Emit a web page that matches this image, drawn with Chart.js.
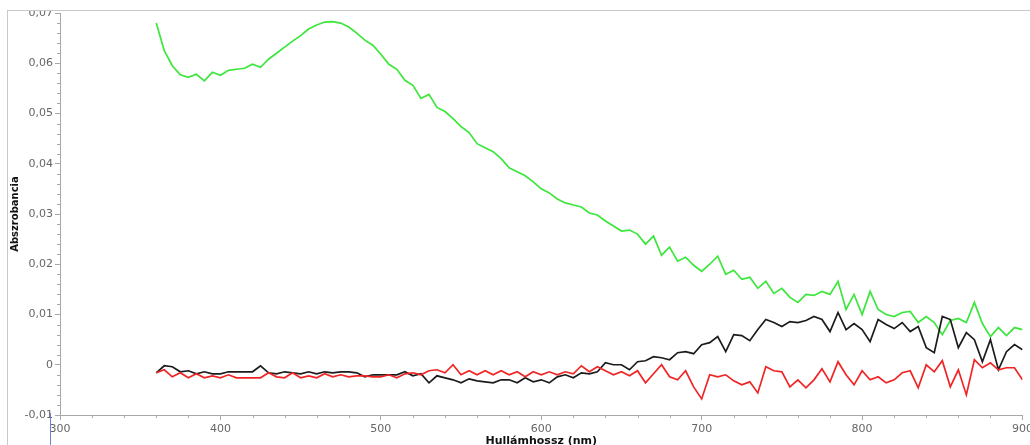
<!DOCTYPE html>
<html>
<head>
<meta charset="utf-8">
<script src="https://cdn.jsdelivr.net/npm/chart.js@4.4.1/dist/chart.umd.min.js"></script>
<style>
  html, body { margin: 0; padding: 0; background: #fff; overflow: hidden; width: 1030px; height: 445px; }
  #wrap { position: absolute; left: 0; top: 0; width: 1036px; height: 460px; }
  #capTop { position: absolute; left: 0; top: 0; width: 1030px; height: 10px; background: #fff; }
  #frame { position: absolute; left: 7px; top: 10px; width: 1040px; height: 450px;
           border-top: 1px solid #c8c8c8; border-left: 1px solid #c8c8c8; pointer-events: none; }
</style>
</head>
<body>
<div id="wrap"><canvas id="spectrum"></canvas></div>
<div id="capTop"></div>
<div id="frame"></div>
<script>
// Wavelength grid (nm), shared by all three spectra
const wavelengths = [
  360,365,370,375,380,385,390,395,400,405,410,415,420,425,430,435,440,445,450,455,
  460,465,470,475,480,485,490,495,500,505,510,515,520,525,530,535,540,545,550,555,
  560,565,570,575,580,585,590,595,600,605,610,615,620,625,630,635,640,645,650,655,
  660,665,670,675,680,685,690,695,700,705,710,715,720,725,730,735,740,745,750,755,
  760,765,770,775,780,785,790,795,800,805,810,815,820,825,830,835,840,845,850,855,
  860,865,870,875,880,885,890,895,900
];

// Absorbance, green sample
const greenSeries = [
  0.0680,0.0625,0.0595,0.0577,0.0572,0.0578,0.0565,0.0582,0.0576,0.0586,
  0.0588,0.0590,0.0598,0.0592,0.0608,0.0620,0.0632,0.0644,0.0655,0.0668,
  0.0676,0.0682,0.0683,0.0680,0.0672,0.0660,0.0646,0.0636,0.0618,0.0598,
  0.0588,0.0566,0.0556,0.0530,0.0538,0.0512,0.0504,0.0490,0.0474,0.0462,
  0.0440,0.0432,0.0424,0.0410,0.0392,0.0384,0.0376,0.0364,0.0350,0.0342,
  0.0330,0.0322,0.0318,0.0314,0.0302,0.0298,0.0286,0.0276,0.0266,0.0268,
  0.0260,0.0240,0.0256,0.0218,0.0234,0.0206,0.0214,0.0198,0.0186,0.0200,
  0.0216,0.0180,0.0188,0.0170,0.0174,0.0152,0.0166,0.0142,0.0152,0.0134,
  0.0124,0.0140,0.0138,0.0146,0.0140,0.0166,0.0110,0.0140,0.0100,0.0146,
  0.0110,0.0100,0.0096,0.0104,0.0106,0.0084,0.0096,0.0084,0.0060,0.0088,
  0.0092,0.0084,0.0124,0.0082,0.0056,0.0074,0.0058,0.0074,0.0070
];

// Absorbance, black sample
const blackSeries = [
  -0.0016,-0.0002,-0.0004,-0.0014,-0.0012,-0.0018,-0.0014,-0.0018,-0.0018,-0.0014,
  -0.0014,-0.0014,-0.0014,-0.0002,-0.0016,-0.0018,-0.0014,-0.0016,-0.0018,-0.0014,
  -0.0018,-0.0014,-0.0016,-0.0014,-0.0014,-0.0016,-0.0024,-0.0020,-0.0020,-0.0020,
  -0.0020,-0.0014,-0.0022,-0.0018,-0.0036,-0.0022,-0.0026,-0.0030,-0.0036,-0.0028,
  -0.0032,-0.0034,-0.0036,-0.0030,-0.0030,-0.0036,-0.0026,-0.0034,-0.0030,-0.0036,
  -0.0024,-0.0020,-0.0026,-0.0016,-0.0018,-0.0014,0.0004,0.0000,0.0000,-0.0010,
  0.0006,0.0008,0.0016,0.0014,0.0010,0.0024,0.0026,0.0022,0.0040,0.0044,
  0.0056,0.0026,0.0060,0.0058,0.0048,0.0070,0.0090,0.0084,0.0076,0.0086,
  0.0084,0.0088,0.0096,0.0090,0.0066,0.0104,0.0070,0.0082,0.0070,0.0046,
  0.0090,0.0080,0.0072,0.0084,0.0066,0.0076,0.0034,0.0024,0.0096,0.0090,
  0.0034,0.0064,0.0050,0.0006,0.0050,-0.0010,0.0026,0.0040,0.0030
];

// Absorbance, red sample
const redSeries = [
  -0.0016,-0.0010,-0.0024,-0.0016,-0.0026,-0.0018,-0.0026,-0.0022,-0.0026,-0.0020,
  -0.0026,-0.0026,-0.0026,-0.0026,-0.0016,-0.0024,-0.0026,-0.0016,-0.0026,-0.0022,
  -0.0026,-0.0018,-0.0024,-0.0020,-0.0024,-0.0022,-0.0022,-0.0024,-0.0024,-0.0020,
  -0.0026,-0.0018,-0.0016,-0.0020,-0.0012,-0.0010,-0.0016,0.0000,-0.0020,-0.0012,
  -0.0020,-0.0012,-0.0020,-0.0012,-0.0020,-0.0014,-0.0024,-0.0014,-0.0020,-0.0014,
  -0.0020,-0.0014,-0.0018,-0.0002,-0.0014,-0.0004,-0.0012,-0.0020,-0.0014,-0.0022,
  -0.0012,-0.0036,-0.0018,0.0000,-0.0024,-0.0030,-0.0012,-0.0044,-0.0068,-0.0020,
  -0.0024,-0.0020,-0.0032,-0.0040,-0.0034,-0.0056,-0.0004,-0.0012,-0.0014,-0.0044,
  -0.0030,-0.0046,-0.0030,-0.0008,-0.0034,0.0006,-0.0020,-0.0040,-0.0012,-0.0030,
  -0.0024,-0.0036,-0.0030,-0.0016,-0.0012,-0.0046,0.0000,-0.0014,0.0008,-0.0044,
  -0.0010,-0.0060,0.0010,-0.0006,0.0004,-0.0010,-0.0006,-0.0006,-0.0030
];

// Axis ticks
const xTickValues = [300, 400, 500, 600, 700, 800, 900];
const yTickValues = [-0.01, 0, 0.01, 0.02, 0.03, 0.04, 0.05, 0.06, 0.07];

const toPoints = series => wavelengths.map((w, i) => ({ x: w, y: series[i] }));
const yLabel = v => (Math.abs(v) < 1e-9 ? '0' : v.toFixed(2).replace('.', ','));

// Small intermediate tick marks on both axes, plus the cursor marker at the x start
const minorTicks = {
  id: 'minorTicks',
  afterDraw(chart) {
    const { ctx, scales: { x, y } } = chart;
    ctx.save();
    ctx.strokeStyle = '#a8a8a8';
    ctx.lineWidth = 1;
    ctx.beginPath();
    for (let i = 0; i <= 40; i++) {
      if (i % 5 === 0) continue;
      const p = Math.round(y.getPixelForValue(-0.01 + i * 0.002)) + 0.5;
      ctx.moveTo(x.left - 3, p);
      ctx.lineTo(x.left, p);
    }
    for (let i = 0; i <= 30; i++) {
      if (i % 5 === 0) continue;
      const p = Math.round(x.getPixelForValue(300 + i * 20)) + 0.5;
      ctx.moveTo(p, y.bottom);
      ctx.lineTo(p, y.bottom + 3);
    }
    ctx.stroke();
    ctx.strokeStyle = '#6b7fe0';
    ctx.beginPath();
    const bx = Math.round(x.left) - 9.5;
    ctx.moveTo(bx, y.bottom - 2);
    ctx.lineTo(bx, y.bottom + 35);
    ctx.stroke();
    ctx.restore();
  }
};

new Chart(document.getElementById('spectrum'), {
  type: 'line',
  data: {
    datasets: [
      { label: 'red', data: toPoints(redSeries), borderColor: '#f02424', borderWidth: 1.7 },
      { label: 'black', data: toPoints(blackSeries), borderColor: '#1c1c1c', borderWidth: 1.7 },
      { label: 'green', data: toPoints(greenSeries), borderColor: '#3ce63c', borderWidth: 1.7 }
    ]
  },
  options: {
    responsive: true,
    maintainAspectRatio: false,
    animation: false,
    events: [],
    elements: { point: { radius: 0 }, line: { tension: 0 } },
    layout: { padding: { top: 13, left: 0, right: 0, bottom: 0 } },
    plugins: { legend: { display: false }, tooltip: { enabled: false } },
    scales: {
      x: {
        type: 'linear',
        min: 300, max: 900,
        afterBuildTicks: s => { s.ticks = xTickValues.map(v => ({ value: v })); },
        afterFit: s => { s.height = 45; },
        border: { color: '#a8a8a8', width: 1 },
        grid: { drawOnChartArea: false, drawTicks: true, tickLength: 5, color: '#a8a8a8' },
        ticks: { color: '#666', padding: 3, maxRotation: 0, font: { family: 'DejaVu Sans', size: 11 } },
        title: { display: true, text: 'Hullámhossz (nm)', color: '#111',
                 font: { family: 'DejaVu Sans', size: 11, weight: 'bold' }, padding: { top: 0, bottom: 12 } }
      },
      y: {
        min: -0.01, max: 0.07,
        afterBuildTicks: s => { s.ticks = yTickValues.map(v => ({ value: v })); },
        afterFit: s => { s.width = 60; },
        border: { color: '#a8a8a8', width: 1 },
        grid: { drawOnChartArea: false, drawTicks: true, tickLength: 5, color: '#a8a8a8' },
        ticks: { color: '#666', padding: 2, callback: v => yLabel(v), font: { family: 'DejaVu Sans', size: 11 } },
        title: { display: true, text: 'Abszrobancia', color: '#111',
                 font: { family: 'DejaVu Sans', size: 10, weight: 'bold' }, padding: { top: 9, bottom: 0 } }
      }
    }
  },
  plugins: [minorTicks]
});
</script>
</body>
</html>
